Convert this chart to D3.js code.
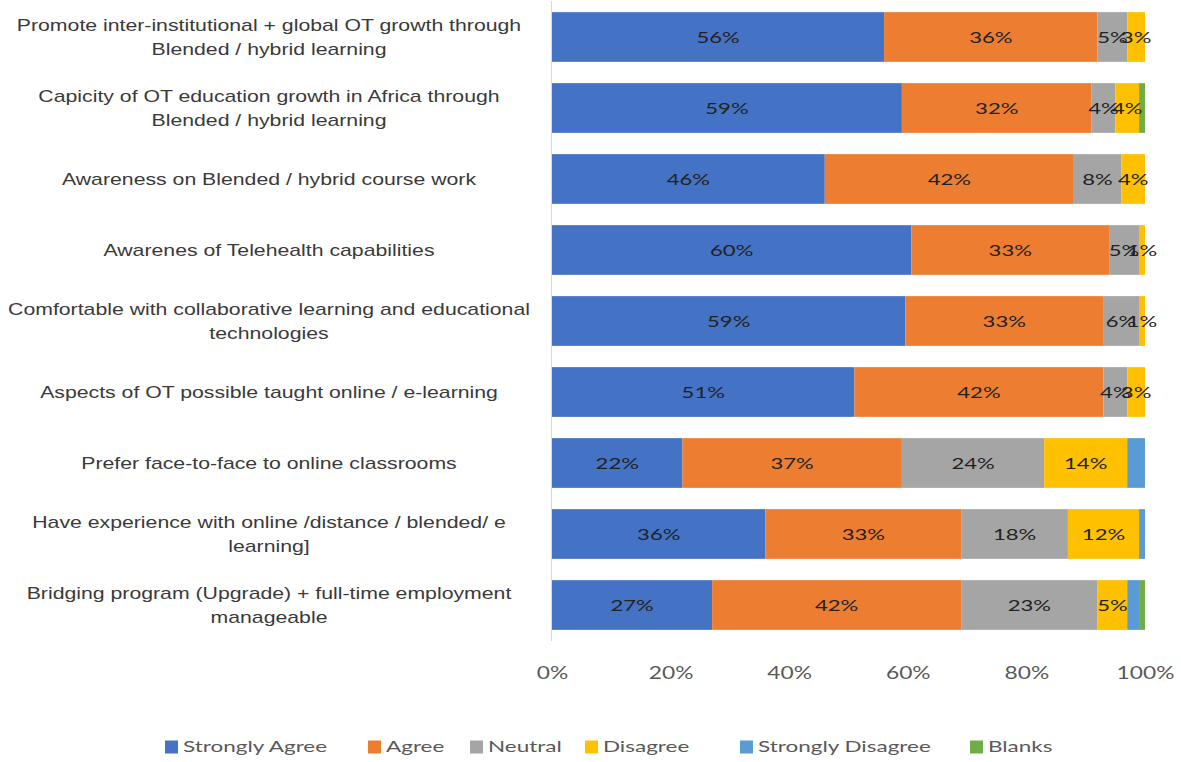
<!DOCTYPE html>
<html>
<head>
<meta charset="utf-8">
<script src="https://cdn.jsdelivr.net/npm/d3@7"></script>
<style>
  html, body { margin: 0; padding: 0; background: #fff; }
  svg { display: block; }
</style>
</head>
<body>
<svg id="chart" width="1181" height="762"></svg>
<script>
// Survey statements (top to bottom); "\n" splits a label over two lines
const categories = [
  "Promote inter-institutional + global OT growth through\nBlended / hybrid learning",
  "Capicity of OT education growth in Africa through\nBlended / hybrid learning",
  "Awareness on Blended / hybrid course work",
  "Awarenes of Telehealth capabilities",
  "Comfortable with collaborative learning and educational\ntechnologies",
  "Aspects of OT possible taught online / e-learning",
  "Prefer face-to-face to online classrooms",
  "Have experience with online /distance / blended/ e\nlearning]",
  "Bridging program (Upgrade) + full-time employment\nmanageable"
];

const seriesNames = ["Strongly Agree", "Agree", "Neutral", "Disagree", "Strongly Disagree", "Blanks"];

// Percent of respondents per statement
const stronglyAgree    = [56, 59, 46, 60, 59, 51, 22, 36, 27];
const agree            = [36, 32, 42, 33, 33, 42, 37, 33, 42];
const neutral          = [5, 4, 8, 5, 6, 4, 24, 18, 23];
const disagree         = [3, 4, 4, 1, 1, 3, 14, 12, 5];
const stronglyDisagree = [0, 0, 0, 0, 0, 0, 3, 1, 2];
const blanks           = [0, 1, 0, 0, 0, 0, 0, 0, 1];

const tickValues = [0, 0.2, 0.4, 0.6, 0.8, 1.0];

const colors = ["#4472C4", "#ED7D31", "#A5A5A5", "#FFC000", "#5B9BD5", "#70AD47"];
// Series whose segments carry a value label
const labelledSeries = 4;

// Wide, slightly stretched lettering used throughout the chart
const stretch = 1.38;
const legendStretch = 1.45;
const catStretch = 1.25;

const seriesValues = [stronglyAgree, agree, neutral, disagree, stronglyDisagree, blanks];
const rows = categories.map((c, i) => {
  const r = { category: c };
  seriesNames.forEach((s, k) => { r[s] = seriesValues[k][i]; });
  return r;
});

const svg = d3.select("#chart");

const x = d3.scaleLinear().domain([0, 1]).range([552, 1145]);
const y = d3.scaleBand()
  .domain(categories)
  .range([1.5, 640.5])
  .paddingInner(0.3)
  .paddingOuter(0.15);

const stack = d3.stack()
  .keys(seriesNames)
  .offset(d3.stackOffsetExpand);
const layers = stack(rows);

// Stacked segments
const g = svg.append("g");
layers.forEach((layer, k) => {
  g.selectAll(null)
    .data(layer)
    .join("rect")
    .attr("x", d => x(d[0]))
    .attr("y", d => y(d.data.category))
    .attr("width", d => Math.max(0, x(d[1]) - x(d[0])))
    .attr("height", y.bandwidth())
    .attr("fill", colors[k]);
});

// Value labels
layers.slice(0, labelledSeries).forEach((layer, k) => {
  g.selectAll(null)
    .data(layer.filter(d => d.data[seriesNames[k]] > 0))
    .join("text")
    .attr("transform", d =>
      `translate(${(x(d[0]) + x(d[1])) / 2},${y(d.data.category) + y.bandwidth() / 2}) scale(${stretch},1)`)
    .attr("dy", "0.35em")
    .attr("text-anchor", "middle")
    .attr("font-family", "Lato, 'Open Sans', sans-serif")
    .attr("font-size", 16)
    .attr("fill", "#222")
    .text(d => d.data[seriesNames[k]] + "%");
});

// Category axis line
svg.append("line")
  .attr("x1", 551.5).attr("x2", 551.5)
  .attr("y1", 1).attr("y2", 641)
  .attr("stroke", "#d9d9d9")
  .attr("stroke-width", 1);

// Category labels, centred in the left area
const labelG = svg.append("g")
  .attr("font-family", "'Liberation Sans', Arial, sans-serif")
  .attr("font-size", 17)
  .attr("fill", "#3a3a3a");
categories.forEach(c => {
  const lines = c.split("\n");
  const cy = y(c) + y.bandwidth() / 2;
  const lh = 24;
  const t = labelG.append("text")
    .attr("text-anchor", "middle")
    .attr("transform", `translate(269,0) scale(${catStretch},1)`);
  lines.forEach((ln, i) => {
    t.append("tspan")
      .attr("x", 0)
      .attr("y", cy + (i - (lines.length - 1) / 2) * lh)
      .attr("dy", "0.35em")
      .text(ln);
  });
});

// Percentage axis
const xAxis = d3.axisBottom(x)
  .tickValues(tickValues)
  .tickFormat(d3.format(".0%"))
  .tickSize(0)
  .tickPadding(0);
const ax = svg.append("g")
  .attr("transform", "translate(0,667)")
  .call(xAxis);
ax.select(".domain").remove();
ax.selectAll("text")
  .attr("transform", `scale(${stretch},1)`)
  .attr("x", d => 0)
  .attr("font-family", "Lato, 'Open Sans', sans-serif")
  .attr("font-size", 16.5)
  .attr("fill", "#595959");

// Legend
const legendX = [165, 368, 470, 585, 740, 970];
const legend = svg.append("g")
  .attr("font-family", "Lato, 'Open Sans', sans-serif")
  .attr("font-size", 15.5)
  .attr("fill", "#595959");
seriesNames.forEach((s, k) => {
  const item = legend.append("g").attr("transform", `translate(${legendX[k]},747)`);
  item.append("rect")
    .attr("x", 0).attr("y", -6.5)
    .attr("width", 13).attr("height", 13)
    .attr("fill", colors[k]);
  item.append("text")
    .attr("transform", `translate(18,0) scale(${legendStretch},1)`)
    .attr("dy", "0.35em")
    .text(s);
});
</script>
</body>
</html>
